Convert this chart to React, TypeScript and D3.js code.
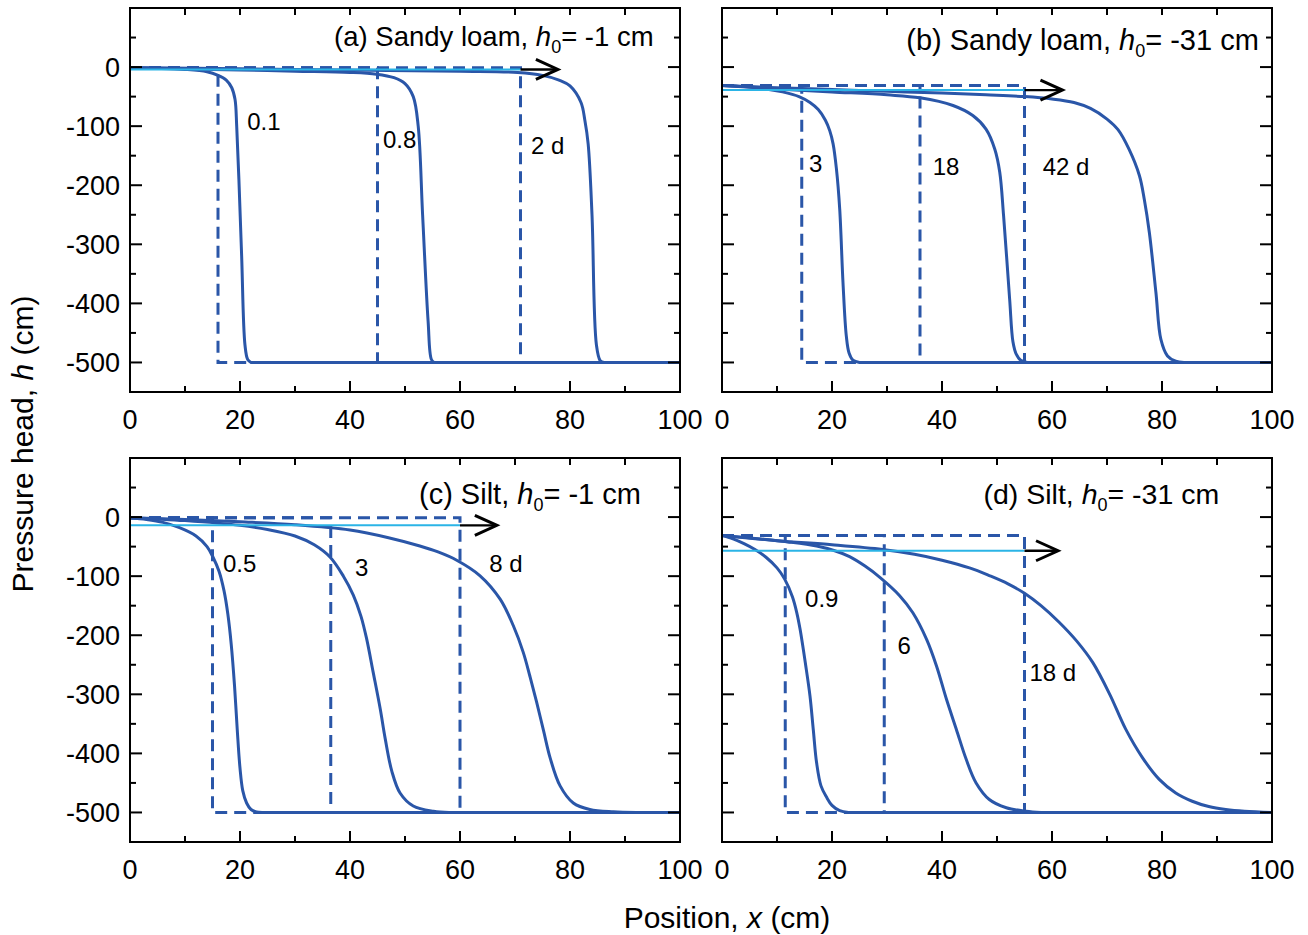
import React from "react";
import * as d3 from "d3";

// ---------- data ----------
const xTicksMajor = [0, 20, 40, 60, 80, 100];
const xTicksMinor = [10, 30, 50, 70, 90];
const yTicksMajor = [0, -100, -200, -300, -400, -500];
const yTicksMinor = [50, -50, -150, -250, -350, -450];

// (a) Sandy loam, h0 = -1 cm
const a_t01 = [[0,-1],[5,-2],[10,-4],[14,-8],[16,-14],[17.5,-22],[18.5,-35],[19.1,-55],[19.4,-100],[19.8,-190],[20.3,-320],[20.9,-470],[21.4,-495],[22,-500],[100,-500]];
const a_t08 = [[0,-1],[10,-3],[20,-5],[30,-7],[40,-9],[44.8,-12],[48,-18],[50,-28],[51.5,-50],[52.4,-100],[53.2,-250],[54.2,-430],[54.8,-495],[55.3,-500],[100,-500]];
const a_t2 = [[0,-1],[20,-3],[40,-5],[60,-7],[70.5,-9],[75,-14],[78,-22],[80,-32],[82,-60],[82.7,-90],[83.3,-130],[84,-250],[84.8,-470],[85.5,-497],[86.2,-500],[100,-500]];
const a_fronts = [16, 45, 71];

// (b) Sandy loam, h0 = -31 cm
const b_t3 = [[0,-31],[4,-33],[8,-37],[11,-42],[14,-50],[16,-60],[17.5,-72],[18.8,-90],[19.6,-108],[20.2,-130],[20.8,-172],[21.4,-240],[22,-365],[22.6,-455],[23.1,-484],[23.8,-496],[25,-500],[100,-500]];
const b_t18 = [[0,-31],[10,-37],[20,-42],[30,-47],[36,-52],[42,-65],[45.6,-82],[48,-105],[49.6,-139],[50.5,-178],[51.2,-252],[52.3,-393],[52.9,-465],[53.5,-486],[54.3,-496],[55.5,-500],[100,-500]];
const b_t42 = [[0,-31],[10,-35],[20,-38],[30,-41],[40,-44],[48,-47],[55,-50],[60,-54],[64,-60],[67,-70],[70,-88],[72,-106],[74,-139],[75.9,-184],[76.8,-225],[77.7,-280],[78.9,-382],[79.8,-461],[81,-489],[82.5,-498],[84,-500],[100,-500]];
const b_fronts = [14.5, 36, 55];

// (c) Silt, h0 = -1 cm
const c_t05 = [[0,-1],[3,-4],[6,-9],[9,-18],[12,-32],[14,-50],[15.1,-68],[16.2,-92],[17.1,-125],[17.8,-165],[18.4,-215],[19,-285],[19.5,-360],[20,-425],[20.5,-463],[21.2,-484],[22,-495],[23,-499],[24,-500],[100,-500]];
const c_t3 = [[0,-1],[10,-6],[20,-14],[25,-21],[30,-32],[33.5,-47],[36.4,-68],[38.8,-100],[40.6,-132],[42,-168],[43,-205],[44.2,-262],[45.5,-325],[46.4,-375],[47.6,-430],[49.1,-467],[51.5,-489],[55.2,-498],[58,-500],[100,-500]];
const c_t8 = [[0,-1],[10,-4],[20,-8],[30,-13],[40,-22],[47,-35],[52.7,-49],[56,-59],[59.4,-73],[63.6,-99],[67.3,-139],[69.7,-184],[71.5,-229],[72.7,-269],[73.9,-312],[75.2,-362],[76.4,-408],[78.2,-455],[80.6,-484],[83.6,-495],[87.9,-499],[92,-500],[100,-500]];
const c_fronts = [15, 36.5, 60];

// (d) Silt, h0 = -31 cm
const d_t09 = [[0,-31],[2,-37],[4,-45],[6,-55],[8,-68],[10,-86],[11.4,-105],[12.8,-135],[13.6,-162],[14.2,-190],[15.2,-250],[16,-303],[16.6,-360],[17.2,-416],[18,-455],[19,-474],[20,-488],[21.4,-497],[23,-500],[100,-500]];
const d_t6 = [[0,-31],[7,-37],[12,-42],[17.2,-49],[20.5,-57],[23.2,-67],[26,-83],[28.7,-102],[32.3,-133],[34.7,-162],[37.2,-207],[39,-252],[40.8,-308],[42.6,-359],[44.4,-410],[46.2,-450],[48.6,-478],[51.7,-492],[55.3,-498],[58,-500],[100,-500]];
const d_t18 = [[0,-31],[10,-40],[20,-47],[29.2,-55],[35,-63],[40,-73],[45,-86],[48.6,-99],[52,-113],[55,-129],[58,-150],[61.3,-178],[64.5,-210],[67.4,-246],[70.5,-300],[73.4,-359],[76.5,-408],[79.5,-444],[82.5,-467],[85.5,-481],[88.5,-490],[91.6,-495],[95,-498],[100,-500]];
const d_fronts = [11.5, 29.5, 55];

const h0s = [-1, -31, -1, -31];
const cyanLevels = [-4, -39, -14, -57];
const arrowLengths = [6.8, 6.9, 6.7, 6.1];
const panelTitles = ["(a) Sandy loam, ", "(b) Sandy loam, ", "(c) Silt, ", "(d) Silt, "];
const panelTitleTails = ["= -1 cm", "= -31 cm", "= -1 cm", "= -31 cm"];
const titleAnchors = [[95.2, 35.6], [97.6, 28.8], [92.9, 22], [90.4, 22]];
const titleSizes = [27.5, 29, 29, 28.5];

const a_labels = [["0.1", 21.3, -107], ["0.8", 46, -137], ["2 d", 72.9, -147]];
const b_labels = [["3", 15.8, -177], ["18", 38.3, -183], ["42 d", 58.3, -183]];
const c_labels = [["0.5", 16.9, -93], ["3", 40.9, -100], ["8 d", 65.3, -93]];
const d_labels = [["0.9", 15.1, -153], ["6", 31.9, -231], ["18 d", 55.9, -278]];

const panels = [
  { curves: [a_t01, a_t08, a_t2], fronts: a_fronts, labels: a_labels, col: 0, row: 0 },
  { curves: [b_t3, b_t18, b_t42], fronts: b_fronts, labels: b_labels, col: 1, row: 0 },
  { curves: [c_t05, c_t3, c_t8], fronts: c_fronts, labels: c_labels, col: 0, row: 1 },
  { curves: [d_t09, d_t6, d_t18], fronts: d_fronts, labels: d_labels, col: 1, row: 1 },
];

// ---------- layout ----------
const W = 1308, H = 935;
const colLeft = [130, 722];
const colWidth = 551;
const rowTop = [8, 458];
const rowHeight = 384;
const BLUE = "#2a56a8";
const CYAN = "#2bb4e6";
const FONT = "Arial, 'Liberation Sans', Helvetica, sans-serif";

function Panel({ p, i }: { p: any; i: number }) {
  const x0 = colLeft[p.col];
  const y0 = rowTop[p.row];
  const x = d3.scaleLinear().domain([0, 100]).range([x0, x0 + colWidth - 1]);
  const y = d3.scaleLinear().domain([-550, 100]).range([y0 + rowHeight, y0]);
  const smooth = d3.line<number[]>().x(d => x(d[0])).y(d => y(d[1])).curve(d3.curveCatmullRom.alpha(0.5));
  const straight = d3.line<number[]>().x(d => x(d[0])).y(d => y(d[1]));
  const curvePath = (c: number[][]) => {
    let k = c.findIndex(d => d[1] <= -500);
    if (k < 0) k = c.length - 1;
    const head = smooth(c.slice(0, k + 1)) || "";
    const tail = c.slice(k);
    return tail.length > 1 ? head + (straight(tail) || "").replace(/^M/, "L") : head;
  };
  const h0 = h0s[i];
  const cy = cyanLevels[i];
  const lastFront = p.fronts[p.fronts.length - 1];
  const tipX = x(lastFront + arrowLengths[i]);
  const tipY = y(cy);
  const showY = p.col === 0;
  const [tx, ty] = titleAnchors[i];
  return (
    <g>
      {p.fronts.map((f: number, k: number) => (
        <path key={"d" + k} d={straight([[0, h0], [f, h0], [f, -500], [100, -500]]) || ""}
          fill="none" stroke={BLUE} strokeWidth={3} strokeDasharray="12,7" />
      ))}
      {p.curves.map((c: number[][], k: number) => (
        <path key={"s" + k} d={curvePath(c)} fill="none" stroke={BLUE} strokeWidth={3} strokeLinejoin="round" />
      ))}
      <path d={straight([[0, cy], [lastFront, cy]]) || ""} stroke={CYAN} strokeWidth={2} fill="none" />
      <line x1={x(lastFront)} y1={tipY} x2={tipX - 2} y2={tipY} stroke="#000" strokeWidth={2.4} />
      <path d={`M${tipX - 22},${tipY - 10} L${tipX},${tipY} L${tipX - 22},${tipY + 10}`} fill="none" stroke="#000" strokeWidth={3} />
      {p.labels.map((l: any, k: number) => (
        <text key={"l" + k} x={x(l[1])} y={y(l[2])} fontSize={24} fontFamily={FONT} fill="#000">{l[0]}</text>
      ))}
      <text x={x(tx)} y={y(ty)} fontSize={titleSizes[i]} fontFamily={FONT} textAnchor="end" fill="#000">
        {panelTitles[i]}
        <tspan fontStyle="italic">h</tspan>
        <tspan fontSize={18} dy={7}>0</tspan>
        <tspan dy={-7}>{panelTitleTails[i]}</tspan>
      </text>
      <rect x={x(0)} y={y(100)} width={x(100) - x(0)} height={y(-550) - y(100)} fill="none" stroke="#000" strokeWidth={2} />
      {xTicksMajor.map(t => (
        <line key={"bx" + t} x1={x(t)} x2={x(t)} y1={y(-550)} y2={y(-550) - 11} stroke="#000" strokeWidth={2} />
      ))}
      {xTicksMinor.map(t => (
        <line key={"bm" + t} x1={x(t)} x2={x(t)} y1={y(-550)} y2={y(-550) - 6} stroke="#000" strokeWidth={2} />
      ))}
      {[...xTicksMajor, ...xTicksMinor].map(t => (
        <line key={"tx" + t} x1={x(t)} x2={x(t)} y1={y(100)} y2={y(100) + 7} stroke="#000" strokeWidth={2} />
      ))}
      {yTicksMajor.map(t => (
        <g key={"y" + t}>
          <line x1={x(0)} x2={x(0) + 12} y1={y(t)} y2={y(t)} stroke="#000" strokeWidth={2} />
          <line x1={x(100)} x2={x(100) - 12} y1={y(t)} y2={y(t)} stroke="#000" strokeWidth={2} />
        </g>
      ))}
      {yTicksMinor.map(t => (
        <g key={"ym" + t}>
          <line x1={x(0)} x2={x(0) + 6} y1={y(t)} y2={y(t)} stroke="#000" strokeWidth={2} />
          <line x1={x(100)} x2={x(100) - 6} y1={y(t)} y2={y(t)} stroke="#000" strokeWidth={2} />
        </g>
      ))}
      {xTicksMajor.map(t => (
        <text key={"xl" + t} x={x(t)} y={y(-550) + 37} fontSize={27} fontFamily={FONT} textAnchor="middle" fill="#000">{t}</text>
      ))}
      {showY && yTicksMajor.map(t => (
        <text key={"yl" + t} x={x(0) - 10} y={y(t) + 9.5} fontSize={27} fontFamily={FONT} textAnchor="end" fill="#000">{t}</text>
      ))}
    </g>
  );
}

export default function App() {
  return (
    <svg width={W} height={H} style={{ position: "absolute", left: 0, top: 0, background: "#fff" }}>
      <rect x={0} y={0} width={W} height={H} fill="#fff" />
      {panels.map((p, i) => <Panel key={i} p={p} i={i} />)}
      <text x={727} y={928} fontSize={30} fontFamily={FONT} textAnchor="middle" fill="#000">
        Position, <tspan fontStyle="italic">x</tspan> (cm)
      </text>
      <text transform="translate(33,444) rotate(-90)" fontSize={30} fontFamily={FONT} textAnchor="middle" fill="#000">
        Pressure head, <tspan fontStyle="italic">h</tspan> (cm)
      </text>
    </svg>
  );
}
